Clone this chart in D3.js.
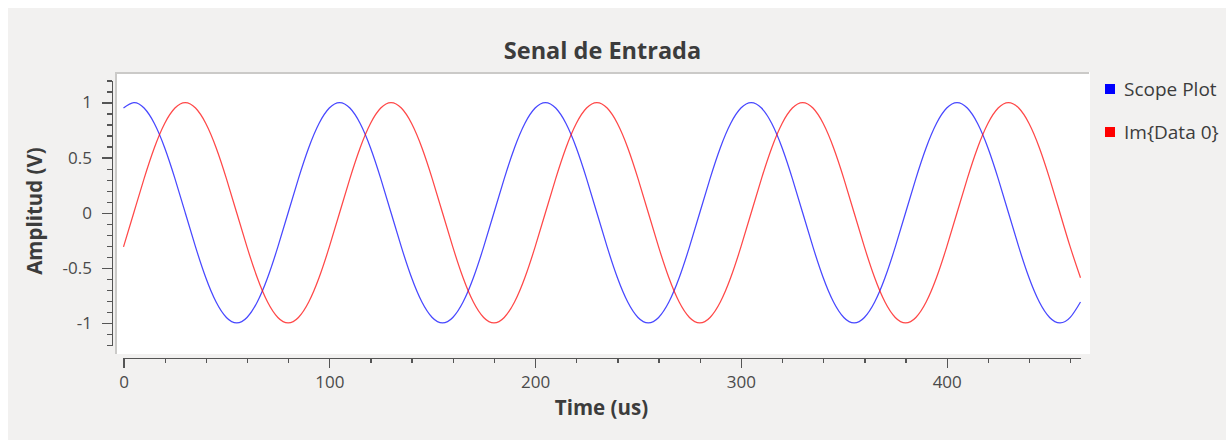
<!DOCTYPE html>
<html>
<head>
<meta charset="utf-8">
<script src="https://cdn.jsdelivr.net/npm/d3@7"></script>
<style>
  body { margin: 0; background: #ffffff; }
  svg { display: block; }
  text { font-family: "Open Sans", "Noto Sans", sans-serif; fill: #3c3c3c; }
  .axis path, .axis line { stroke: #555555; stroke-width: 1.3; shape-rendering: crispEdges; }
  .axis text { font-size: 17px; fill: #4a4a4a; }
</style>
</head>
<body>
<script>
// sample grid (us) and the two traces
var sampleStep = 5;
var scopePlot = [
  0.95, 1.00, 0.95, 0.81, 0.59, 0.31, 0.00, -0.31, -0.59, -0.81,
  -0.95, -1.00, -0.95, -0.81, -0.59, -0.31, 0.00, 0.31, 0.59, 0.81,
  0.95, 1.00, 0.95, 0.81, 0.59, 0.31, 0.00, -0.31, -0.59, -0.81,
  -0.95, -1.00, -0.95, -0.81, -0.59, -0.31, 0.00, 0.31, 0.59, 0.81,
  0.95, 1.00, 0.95, 0.81, 0.59, 0.31, 0.00, -0.31, -0.59, -0.81,
  -0.95, -1.00, -0.95, -0.81, -0.59, -0.31, 0.00, 0.31, 0.59, 0.81,
  0.95, 1.00, 0.95, 0.81, 0.59, 0.31, 0.00, -0.31, -0.59, -0.81,
  -0.95, -1.00, -0.95, -0.81, -0.59, -0.31, 0.00, 0.31, 0.59, 0.81,
  0.95, 1.00, 0.95, 0.81, 0.59, 0.31, 0.00, -0.31, -0.59, -0.81,
  -0.95, -1.00, -0.95, -0.81
];
var imData0 = [
  -0.31, 0.00, 0.31, 0.59, 0.81, 0.95, 1.00, 0.95, 0.81, 0.59,
  0.31, 0.00, -0.31, -0.59, -0.81, -0.95, -1.00, -0.95, -0.81, -0.59,
  -0.31, 0.00, 0.31, 0.59, 0.81, 0.95, 1.00, 0.95, 0.81, 0.59,
  0.31, 0.00, -0.31, -0.59, -0.81, -0.95, -1.00, -0.95, -0.81, -0.59,
  -0.31, 0.00, 0.31, 0.59, 0.81, 0.95, 1.00, 0.95, 0.81, 0.59,
  0.31, 0.00, -0.31, -0.59, -0.81, -0.95, -1.00, -0.95, -0.81, -0.59,
  -0.31, 0.00, 0.31, 0.59, 0.81, 0.95, 1.00, 0.95, 0.81, 0.59,
  0.31, 0.00, -0.31, -0.59, -0.81, -0.95, -1.00, -0.95, -0.81, -0.59,
  -0.31, 0.00, 0.31, 0.59, 0.81, 0.95, 1.00, 0.95, 0.81, 0.59,
  0.31, 0.00, -0.31, -0.59
];
var seriesNames = ["Scope Plot", "Im{Data 0}"];
var seriesColors = ["#0000ff", "#ff0000"];
var xMajorTicks = [0, 100, 200, 300, 400];
var yMajorTicks = [-1, -0.5, 0, 0.5, 1];
var yTickLabels = ["-1", "-0.5", "0", "0.5", "1"];

var W = 1226, H = 440;
var svg = d3.select("body").append("svg")
    .attr("width", W)
    .attr("height", H);

// window background
svg.append("rect")
    .attr("x", 8).attr("y", 8)
    .attr("width", W - 8).attr("height", H - 8)
    .attr("fill", "#f2f1f0");

// canvas frame
var canvas = { x0: 115, y0: 72, x1: 1090, y1: 354 };
svg.append("rect")
    .attr("x", canvas.x0).attr("y", canvas.y0)
    .attr("width", canvas.x1 - canvas.x0).attr("height", canvas.y1 - canvas.y0)
    .attr("fill", "#ffffff");
svg.append("path")
    .attr("d", "M" + (canvas.x0 + 1) + "," + canvas.y1 + "V" + (canvas.y0 + 1) + "H" + (canvas.x1 - 1))
    .attr("fill", "none")
    .attr("stroke", "#cbcac8")
    .attr("stroke-width", 2);

//Scales
var xScale = d3.scaleLinear().domain([0, 465]).range([123.5, 1080.5]);
var yScale = d3.scaleLinear().domain([-1.2, 1.2]).range([345, 80.5]);

// minor ticks (no labels)
var xMinor = d3.range(0, 465, 20).filter(d => d % 100 !== 0);
var yMinor = d3.range(-12, 13).map(d => d / 10).filter(d => Math.abs(d * 2 - Math.round(d * 2)) > 1e-6);

svg.append("g")
    .attr("class", "axis")
    .attr("transform", "translate(0,358)")
    .call(d3.axisBottom(xScale).tickValues(xMinor).tickSize(5).tickSizeOuter(0).tickFormat(""));
svg.append("g")
    .attr("class", "axis")
    .attr("transform", "translate(0,358)")
    .call(d3.axisBottom(xScale).tickValues(xMajorTicks).tickSize(10).tickSizeOuter(0).tickPadding(8).tickFormat(d3.format("d")));

svg.append("g")
    .attr("class", "axis")
    .attr("transform", "translate(112,0)")
    .call(d3.axisLeft(yScale).tickValues(yMinor).tickSize(5).tickSizeOuter(0).tickFormat(""));
svg.append("g")
    .attr("class", "axis")
    .attr("transform", "translate(112,0)")
    .call(d3.axisLeft(yScale).tickValues(yMajorTicks).tickSize(10).tickSizeOuter(0).tickPadding(10)
        .tickFormat((d, i) => yTickLabels[i]));

//Traces
var line = d3.line()
    .x((d, i) => xScale(i * sampleStep))
    .y(d => yScale(d))
    .curve(d3.curveNatural);

[scopePlot, imData0].forEach(function (vals, k) {
    svg.append("path")
        .datum(vals)
        .attr("fill", "none")
        .attr("stroke", seriesColors[k])
        .attr("stroke-opacity", 0.72)
        .attr("stroke-width", 1.25)
        .attr("d", line);
});

//Title and axis labels
svg.append("text")
    .attr("x", 602.5).attr("y", 59)
    .attr("text-anchor", "middle")
    .style("font-size", "23.5px").style("font-weight", "bold")
    .text("Senal de Entrada");

svg.append("text")
    .attr("x", 601.5).attr("y", 415)
    .attr("text-anchor", "middle")
    .style("font-size", "20.5px").style("font-weight", "bold")
    .text("Time (us)");

svg.append("text")
    .attr("transform", "translate(42,211) rotate(-90)")
    .attr("text-anchor", "middle")
    .style("font-size", "20.5px").style("font-weight", "bold")
    .text("Amplitud (V)");

//Legend
var legend = svg.append("g").attr("transform", "translate(1105,0)");
seriesNames.forEach(function (name, k) {
    var cy = 89 + k * 43;
    legend.append("rect")
        .attr("x", 0).attr("y", cy - 5)
        .attr("width", 10).attr("height", 10)
        .attr("fill", seriesColors[k]);
    legend.append("text")
        .attr("x", 19).attr("y", cy)
        .attr("dy", "0.35em")
        .style("font-size", "19px")
        .style("fill", "#3c3c3c")
        .text(name);
});
</script>
</body>
</html>
